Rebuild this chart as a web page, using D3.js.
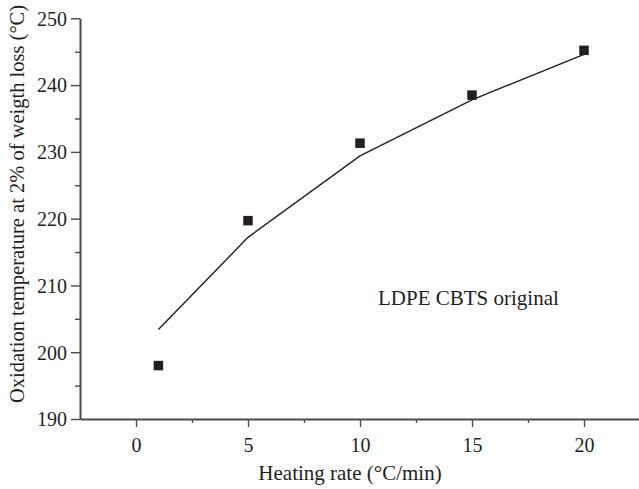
<!DOCTYPE html>
<html>
<head>
<meta charset="utf-8">
<script src="https://cdn.jsdelivr.net/npm/d3@7"></script>
<style>
  html, body { margin: 0; padding: 0; background: #fff; }
  svg { display: block; }
  text { font-family: "Liberation Serif", "Times New Roman", serif; fill: #231f20; }
</style>
</head>
<body>
<svg id="chart" width="639" height="489"></svg>
<script>
// Heating rate (°C/min) and measured oxidation onset temperature (°C)
const heatingRates = [1, 5, 10, 15, 20];
const measuredTemps = [198.0, 219.7, 231.3, 238.5, 245.2];
// Fitted curve evaluated at the same heating rates
const fittedTemps = [203.4, 217.2, 229.4, 237.8, 244.6];

const xMajorTicks = [0, 5, 10, 15, 20];
const xMinorTicks = [2.5, 7.5, 12.5, 17.5];
const yMajorTicks = [190, 200, 210, 220, 230, 240, 250];
const yMinorTicks = [195, 205, 215, 225, 235, 245];

const seriesLabel = "LDPE CBTS original";
const xTitle = "Heating rate (°C/min)";
const yTitle = "Oxidation temperature at 2% of weigth loss (°C)";

const svg = d3.select("#chart");
const ink = "#231f20";
const axisInk = "#4a4a4a";

const x = d3.scaleLinear().domain([-2.5, 22.5]).range([80, 640]);
const y = d3.scaleLinear().domain([190, 250]).range([419, 18.3]);

// Minor ticks (no labels)
svg.append("g")
  .attr("transform", `translate(0,${y(190)})`)
  .call(d3.axisBottom(x).tickValues(xMinorTicks).tickSize(4).tickSizeOuter(0).tickFormat(""))
  .call(g => g.select(".domain").remove())
  .call(g => g.selectAll("line").attr("stroke", axisInk).attr("stroke-width", 1.4));

svg.append("g")
  .attr("transform", `translate(${x(-2.5)},0)`)
  .call(d3.axisLeft(y).tickValues(yMinorTicks).tickSize(5).tickSizeOuter(0).tickFormat(""))
  .call(g => g.select(".domain").remove())
  .call(g => g.selectAll("line").attr("stroke", axisInk).attr("stroke-width", 1.4));

// Major axes
const xAxis = svg.append("g")
  .attr("transform", `translate(0,${y(190)})`)
  .call(d3.axisBottom(x).tickValues(xMajorTicks).tickSize(8).tickSizeOuter(0).tickPadding(11));
const yAxis = svg.append("g")
  .attr("transform", `translate(${x(-2.5)},0)`)
  .call(d3.axisLeft(y).tickValues(yMajorTicks).tickSize(9).tickSizeOuter(0).tickPadding(4));

[xAxis, yAxis].forEach(g => {
  g.select(".domain").attr("stroke", axisInk).attr("stroke-width", 2);
  g.selectAll(".tick line").attr("stroke", axisInk).attr("stroke-width", 1.4);
  g.selectAll(".tick text")
    .attr("font-family", "Liberation Serif, serif")
    .attr("font-size", 20)
    .attr("fill", ink);
});
yAxis.selectAll(".tick text").attr("dy", "0.34em");

// Fitted curve
const line = d3.line()
  .x((d, i) => x(heatingRates[i]))
  .y(d => y(d));
svg.append("path")
  .datum(fittedTemps)
  .attr("d", line)
  .attr("fill", "none")
  .attr("stroke", ink)
  .attr("stroke-width", 1.4);

// Measured points
const size = 9.5;
svg.append("g").selectAll("rect")
  .data(measuredTemps)
  .join("rect")
  .attr("x", (d, i) => x(heatingRates[i]) - size / 2)
  .attr("y", d => y(d) - size / 2)
  .attr("width", size)
  .attr("height", size)
  .attr("fill", ink);

// Series label
svg.append("text")
  .attr("x", 378)
  .attr("y", 305)
  .attr("font-size", 21)
  .text(seriesLabel);

// Axis titles
svg.append("text")
  .attr("x", 350)
  .attr("y", 480)
  .attr("text-anchor", "middle")
  .attr("font-size", 21)
  .text(xTitle);

svg.append("text")
  .attr("transform", "translate(24,204) rotate(-90)")
  .attr("text-anchor", "middle")
  .attr("font-size", 20.5)
  .text(yTitle);
</script>
</body>
</html>
